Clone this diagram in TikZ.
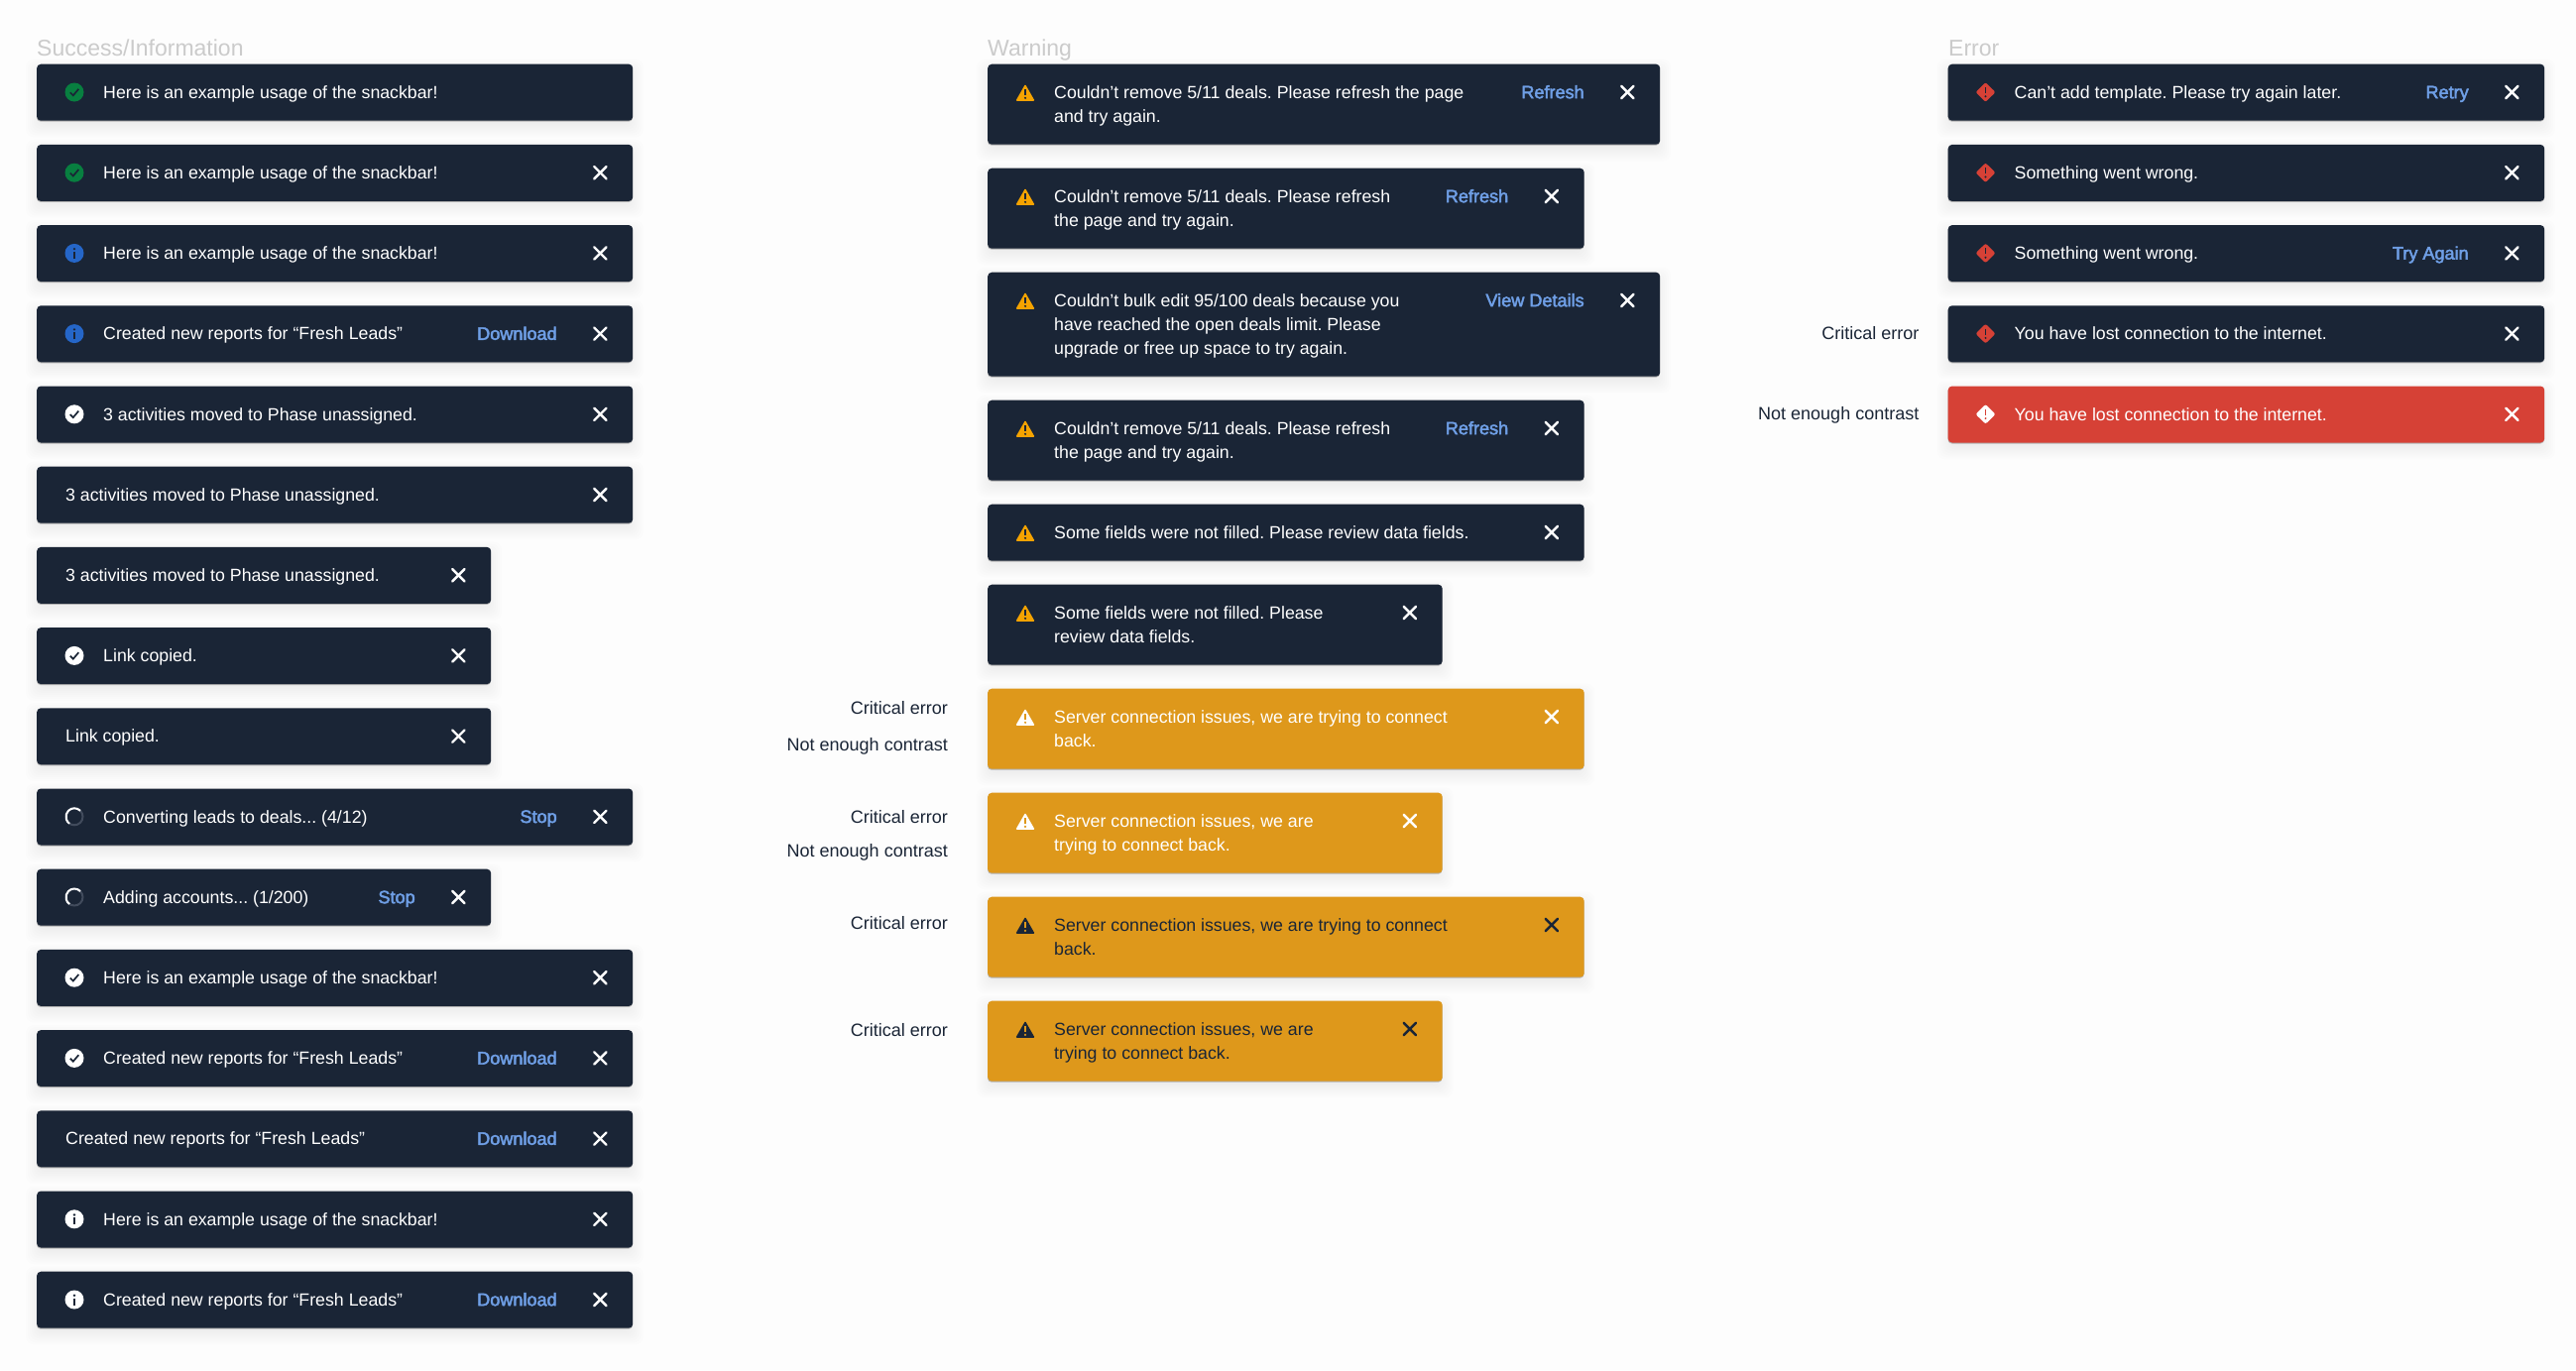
\documentclass[tikz,border=0pt]{standalone}
\usepackage{fontspec}
\setmainfont{Liberation Sans}
\newfontfamily\actfont[FakeBold=2.5]{Liberation Sans}
\frenchspacing

\definecolor{pagewhite}{HTML}{FDFDFD}
\definecolor{barnavy}{HTML}{1A2536}
\definecolor{baramber}{HTML}{DE981B}
\definecolor{barred}{HTML}{D64136}
\definecolor{okgreen}{HTML}{087F40}
\definecolor{infoblue}{HTML}{2566C8}
\definecolor{warnamber}{HTML}{F5A300}
\definecolor{linkblue}{HTML}{6F9FE6}
\definecolor{titlegray}{HTML}{CBCBCB}
\definecolor{spinring}{HTML}{414B5C}

\tikzset{
  snackbox/.style={rectangle, rounded corners=4pt, inner sep=0pt, anchor=north west},
  msgtext/.style={inner sep=0pt, anchor=north west, align=left, text=white,
    font=\fontsize{17.75}{24}\selectfont, execute at begin node=\rule{0pt}{14pt}},
  manylines/.style={yshift=-1.6pt},
  acttext/.style={msgtext, anchor=north east, text=linkblue, font=\actfont\fontsize{18.1}{24}\selectfont},
  sidenote/.style={inner sep=0pt, anchor=base east, text=barnavy, font=\fontsize{18}{24}\selectfont},
  coltitle/.style={inner sep=0pt, anchor=base west, text=titlegray, font=\fontsize{23}{26}\selectfont},
  closeline/.style={line width=2.4pt, line cap=round}
}

% bar with its soft shadow: name, colour, x, y, width, height
\newcommand{\snackbar}[6]{
  \foreach \g in {-3,-1,...,11}
    \fill[black, opacity=.008, rounded corners=8pt] ({#3-\g},{#4-\g+6}) rectangle ++({#5+2*\g},{#6+2*\g});
  \fill[black, opacity=.25, rounded corners=4pt] (#3,{#4+1.2}) rectangle ++(#5,#6);
  \node[snackbox, fill=#2, minimum width=#5pt, minimum height=#6pt] (#1) at (#3,#4) {};
}
\newcommand{\snackmsg}[3][]{
  \node[msgtext,#1] (#2m) at ([shift={(67pt,-20.5pt)}]#2.north west) {#3};
}
\newcommand{\snackact}[2]{
  \node[acttext] (#1a) at ([shift={(-76.5pt,-20.5pt)}]#1.north east) {#2};
}
\newcommand{\snackclose}[2][white]{
  \begin{scope}[shift={(#2.north east)}]
    \draw[closeline, #1] (-39.2,22.3) -- (-26.8,34.7);
    \draw[closeline, #1] (-39.2,34.7) -- (-26.8,22.3);
  \end{scope}
}
% icons: bar name, shape colour, mark colour
\newcommand{\iconcheck}[3]{
  \begin{scope}[shift={(#1.north west)}]
    \fill[#2] (38,28.5) circle (9.5);
    \draw[#3, line width=1.7pt] (33.8,28.8) -- (36.8,31.8) -- (42.3,25.3);
  \end{scope}
}
\newcommand{\iconinfo}[3]{
  \begin{scope}[shift={(#1.north west)}]
    \fill[#2] (38,28.5) circle (9.5);
    \fill[#3] (38,24.2) circle (1.3);
    \draw[#3, line width=2.2pt] (38,27) -- (38,34);
  \end{scope}
}
\newcommand{\iconwarn}[3]{
  \begin{scope}[shift={(#1.north west)}]
    \fill[#2, rounded corners=1.2pt] (28.3,37.4) -- (38,20.4) -- (47.7,37.4) -- cycle;
    \draw[#3, line width=2.1pt] (38,25.6) -- (38,31.4);
    \fill[#3] (38,34.3) circle (1.2);
  \end{scope}
}
\newcommand{\icondiamond}[3]{
  \begin{scope}[shift={(#1.north west)}]
    \fill[#2, rounded corners=2pt] (28,28.5) -- (38,18.6) -- (48,28.5) -- (38,38.4) -- cycle;
    \draw[#3, line width=1.8pt] (38,23.5) -- (38,29.5);
    \fill[#3] (38,32.8) circle (1.1);
  \end{scope}
}
\newcommand{\iconspin}[1]{
  \begin{scope}[shift={(#1.north west)}]
    \draw[spinring, line width=2pt] (38,28.5) circle (8.5);
    \draw[white, line width=2pt] (44,22.5) arc[start angle=-45, end angle=-235, radius=8.5];
  \end{scope}
}

\begin{document}
\begin{tikzpicture}[x=1pt,y=-1pt]
  \fill[pagewhite] (0,0) rectangle (2598,1382);
  \useasboundingbox (0,0) rectangle (2598,1382);

  % column titles
  \node[coltitle] (stitle) at (37,56) {Success/Information};
  \node[coltitle] (wtitle) at (996,56) {Warning};
  \node[coltitle] (etitle) at (1965,56) {Error};

  % success and information
  \snackbar{s1}{barnavy}{37}{64.5}{601}{57}
  \iconcheck{s1}{okgreen}{barnavy}
  \snackmsg{s1}{Here is an example usage of the snackbar!}

  \snackbar{s2}{barnavy}{37}{145.7}{601}{57}
  \iconcheck{s2}{okgreen}{barnavy}
  \snackmsg{s2}{Here is an example usage of the snackbar!}
  \snackclose{s2}

  \snackbar{s3}{barnavy}{37}{226.9}{601}{57}
  \iconinfo{s3}{infoblue}{barnavy}
  \snackmsg{s3}{Here is an example usage of the snackbar!}
  \snackclose{s3}

  \snackbar{s4}{barnavy}{37}{308.1}{601}{57}
  \iconinfo{s4}{infoblue}{barnavy}
  \snackmsg{s4}{Created new reports for “Fresh Leads”}
  \snackact{s4}{Download}
  \snackclose{s4}

  \snackbar{s5}{barnavy}{37}{389.3}{601}{57}
  \iconcheck{s5}{white}{barnavy}
  \snackmsg{s5}{3 activities moved to Phase unassigned.}
  \snackclose{s5}

  \snackbar{s6}{barnavy}{37}{470.5}{601}{57}
  \snackmsg[xshift=-38pt]{s6}{3 activities moved to Phase unassigned.}
  \snackclose{s6}

  \snackbar{s7}{barnavy}{37}{551.7}{458}{57}
  \snackmsg[xshift=-38pt]{s7}{3 activities moved to Phase unassigned.}
  \snackclose{s7}

  \snackbar{s8}{barnavy}{37}{632.9}{458}{57}
  \iconcheck{s8}{white}{barnavy}
  \snackmsg{s8}{Link copied.}
  \snackclose{s8}

  \snackbar{s9}{barnavy}{37}{714.1}{458}{57}
  \snackmsg[xshift=-38pt]{s9}{Link copied.}
  \snackclose{s9}

  \snackbar{s10}{barnavy}{37}{795.3}{601}{57}
  \iconspin{s10}
  \snackmsg{s10}{Converting leads to deals... (4/12)}
  \snackact{s10}{Stop}
  \snackclose{s10}

  \snackbar{s11}{barnavy}{37}{876.5}{458}{57}
  \iconspin{s11}
  \snackmsg{s11}{Adding accounts... (1/200)}
  \snackact{s11}{Stop}
  \snackclose{s11}

  \snackbar{s12}{barnavy}{37}{957.7}{601}{57}
  \iconcheck{s12}{white}{barnavy}
  \snackmsg{s12}{Here is an example usage of the snackbar!}
  \snackclose{s12}

  \snackbar{s13}{barnavy}{37}{1038.9}{601}{57}
  \iconcheck{s13}{white}{barnavy}
  \snackmsg{s13}{Created new reports for “Fresh Leads”}
  \snackact{s13}{Download}
  \snackclose{s13}

  \snackbar{s14}{barnavy}{37}{1120.1}{601}{57}
  \snackmsg[xshift=-38pt]{s14}{Created new reports for “Fresh Leads”}
  \snackact{s14}{Download}
  \snackclose{s14}

  \snackbar{s15}{barnavy}{37}{1201.3}{601}{57}
  \iconinfo{s15}{white}{barnavy}
  \snackmsg{s15}{Here is an example usage of the snackbar!}
  \snackclose{s15}

  \snackbar{s16}{barnavy}{37}{1282.5}{601}{57}
  \iconinfo{s16}{white}{barnavy}
  \snackmsg{s16}{Created new reports for “Fresh Leads”}
  \snackact{s16}{Download}
  \snackclose{s16}

  % warning
  \snackbar{w1}{barnavy}{996}{64.5}{678}{81}
  \iconwarn{w1}{warnamber}{barnavy}
  \snackmsg[manylines]{w1}{Couldn’t remove 5/11 deals. Please refresh the page\\and try again.}
  \snackact{w1}{Refresh}
  \snackclose{w1}

  \snackbar{w2}{barnavy}{996}{169.5}{601.5}{81}
  \iconwarn{w2}{warnamber}{barnavy}
  \snackmsg[manylines]{w2}{Couldn’t remove 5/11 deals. Please refresh\\the page and try again.}
  \snackact{w2}{Refresh}
  \snackclose{w2}

  \snackbar{w3}{barnavy}{996}{274.5}{678}{105}
  \iconwarn{w3}{warnamber}{barnavy}
  \snackmsg[manylines]{w3}{Couldn’t bulk edit 95/100 deals because you\\have reached the open deals limit. Please\\upgrade or free up space to try again.}
  \snackact{w3}{View Details}
  \snackclose{w3}

  \snackbar{w4}{barnavy}{996}{403.5}{601.5}{81}
  \iconwarn{w4}{warnamber}{barnavy}
  \snackmsg[manylines]{w4}{Couldn’t remove 5/11 deals. Please refresh\\the page and try again.}
  \snackact{w4}{Refresh}
  \snackclose{w4}

  \snackbar{w5}{barnavy}{996}{508.5}{601.5}{57}
  \iconwarn{w5}{warnamber}{barnavy}
  \snackmsg{w5}{Some fields were not filled. Please review data fields.}
  \snackclose{w5}

  \snackbar{w6}{barnavy}{996}{589.5}{458.5}{81}
  \iconwarn{w6}{warnamber}{barnavy}
  \snackmsg[manylines]{w6}{Some fields were not filled. Please\\review data fields.}
  \snackclose{w6}

  \snackbar{w7}{baramber}{996}{694.5}{601.5}{81}
  \iconwarn{w7}{white}{baramber}
  \snackmsg[manylines]{w7}{Server connection issues, we are trying to connect\\back.}
  \snackclose{w7}

  \snackbar{w8}{baramber}{996}{799.5}{458.5}{81}
  \iconwarn{w8}{white}{baramber}
  \snackmsg[manylines]{w8}{Server connection issues, we are\\trying to connect back.}
  \snackclose{w8}

  \snackbar{w9}{baramber}{996}{904.5}{601.5}{81}
  \iconwarn{w9}{barnavy}{baramber}
  \snackmsg[manylines,text=barnavy]{w9}{Server connection issues, we are trying to connect\\back.}
  \snackclose[barnavy]{w9}

  \snackbar{w10}{baramber}{996}{1009.5}{458.5}{81}
  \iconwarn{w10}{barnavy}{baramber}
  \snackmsg[manylines,text=barnavy]{w10}{Server connection issues, we are\\trying to connect back.}
  \snackclose[barnavy]{w10}

  % notes beside the warning bars
  \node[sidenote] (w7crit) at (956,720) {Critical error};
  \node[sidenote] (w7cont) at (956,757.5) {Not enough contrast};
  \node[sidenote] (w8crit) at (956,830) {Critical error};
  \node[sidenote] (w8cont) at (956,864) {Not enough contrast};
  \node[sidenote] (w9crit) at (956,937.5) {Critical error};
  \node[sidenote] (w10crit) at (956,1045) {Critical error};

  % error
  \snackbar{e1}{barnavy}{1964.5}{64.5}{601.5}{57}
  \icondiamond{e1}{barred}{barnavy}
  \snackmsg{e1}{Can’t add template. Please try again later.}
  \snackact{e1}{Retry}
  \snackclose{e1}

  \snackbar{e2}{barnavy}{1964.5}{145.7}{601.5}{57}
  \icondiamond{e2}{barred}{barnavy}
  \snackmsg{e2}{Something went wrong.}
  \snackclose{e2}

  \snackbar{e3}{barnavy}{1964.5}{226.9}{601.5}{57}
  \icondiamond{e3}{barred}{barnavy}
  \snackmsg{e3}{Something went wrong.}
  \snackact{e3}{Try Again}
  \snackclose{e3}

  \snackbar{e4}{barnavy}{1964.5}{308.1}{601.5}{57}
  \icondiamond{e4}{barred}{barnavy}
  \snackmsg{e4}{You have lost connection to the internet.}
  \snackclose{e4}

  \snackbar{e5}{barred}{1964.5}{389.3}{601.5}{57}
  \icondiamond{e5}{white}{barred}
  \snackmsg{e5}{You have lost connection to the internet.}
  \snackclose{e5}

  \node[sidenote] (e4crit) at (1935.5,342.5) {Critical error};
  \node[sidenote] (e5cont) at (1935.5,423) {Not enough contrast};
\end{tikzpicture}
\end{document}
